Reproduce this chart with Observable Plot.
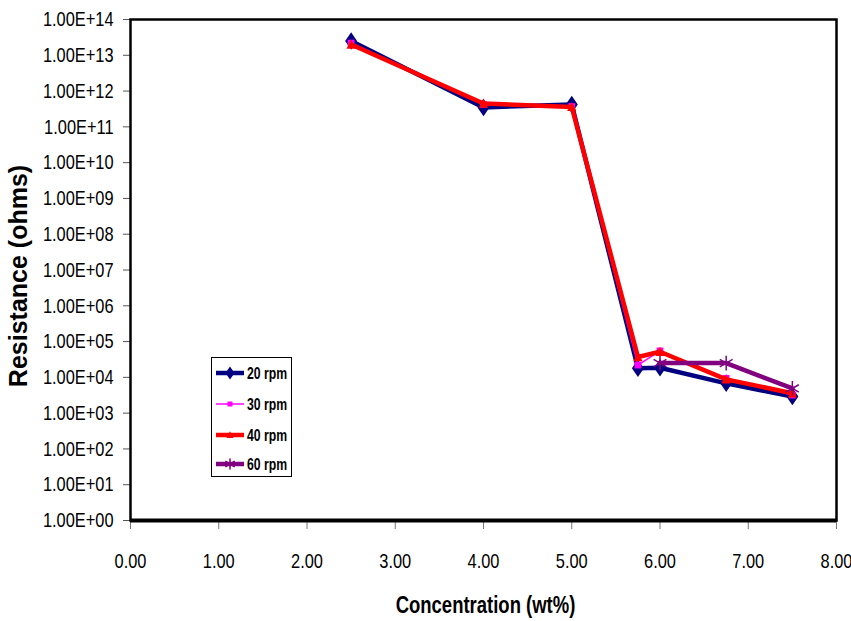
<!DOCTYPE html>
<html><head><meta charset="utf-8">
<script src="https://cdn.jsdelivr.net/npm/d3@7"></script>
<script src="https://cdn.jsdelivr.net/npm/@observablehq/plot@0.6"></script>
<style>
html,body{margin:0;padding:0;background:#fff;}
#wrap{position:relative;width:851px;height:621px;}
#legend{position:absolute;left:211px;top:357px;}
</style></head><body><div id="wrap"></div>
<script>
// ---- data ----
const xValues = [2.5, 4.0, 5.0, 5.75, 6.0, 6.75, 7.5];
const seriesNames = ["20 rpm", "30 rpm", "40 rpm", "60 rpm"];
const rpm20 = [2.5e13, 3.5e11, 4.2e11, 1.8e4, 1.85e4, 6.8e3, 2.9e3];
const rpm30 = [2.2e13, 4.2e11, 3.7e11, 2.2e4, 5.5e4, 9.4e3, 3.2e3];
const rpm40 = [2.0e13, 4.5e11, 3.6e11, 3.7e4, 5.2e4, 8.8e3, 3.6e3];
const rpm60 = [null, null, null, null, 2.5e4, 2.5e4, 4.9e3];
const seriesValues = [rpm20, rpm30, rpm40, rpm60];
const seriesColors = ["#000080", "#FF00FF", "#FF0000", "#800080"];
const xTicks = [0, 1, 2, 3, 4, 5, 6, 7, 8];
const yTicks = [1e0, 1e1, 1e2, 1e3, 1e4, 1e5, 1e6, 1e7, 1e8, 1e9, 1e10, 1e11, 1e12, 1e13, 1e14];
const xTitle = "Concentration (wt%)";
const yTitle = "Resistance (ohms)";

const rows = [];
seriesNames.forEach((s, i) => xValues.forEach((x, j) => {
  const v = seriesValues[i][j];
  if (v != null) rows.push({series: s, x, y: v});
}));

const font = "'Liberation Sans',Arial,sans-serif";

const tallDiamond = {draw(ctx, size) {const r = Math.sqrt(size) / 2; ctx.moveTo(0, -r * 1.45); ctx.lineTo(r, 0); ctx.lineTo(0, r * 1.45); ctx.lineTo(-r, 0); ctx.closePath();}};
const triUp = {draw(ctx, size) {const h = Math.sqrt(size) / 2; ctx.moveTo(0, -h * 1.1); ctx.lineTo(h, h * 0.9); ctx.lineTo(-h, h * 0.9); ctx.closePath();}};
const symbols = [tallDiamond, "square", triUp, "asterisk"];
const symR = [6.8, 3.8, 5.2, 7];
const lineW = [4.5, 1.5, 4.5, 4.5];

const fmtY = d => { const e = Math.round(Math.log10(d)); return "1.00E+" + String(e).padStart(2, "0"); };

const marks = [
  Plot.axisY({ticks: yTicks, tickFormat: fmtY, tickSize: 7, tickPadding: 10, fontSize: 21, fontFamily: font, stroke: "#555", fill: "black", label: null}),
  Plot.axisX({ticks: xTicks, tickFormat: d => d.toFixed(2), tickSize: 9, tickPadding: 24, fontSize: 21, fontFamily: font, stroke: "#777", fill: "black", label: null}),
  Plot.frame({stroke: "black", strokeWidth: 2.5}),
  Plot.ruleY([1], {stroke: "black", strokeWidth: 4})
];
seriesNames.forEach((s, i) => {
  const d = rows.filter(r => r.series === s);
  marks.push(Plot.line(d, {x: "x", y: "y", stroke: seriesColors[i], strokeWidth: lineW[i]}));
  if (i === 3) marks.push(Plot.dot(d, {x: "x", y: "y", symbol: () => symbols[i], r: symR[i], stroke: seriesColors[i], strokeWidth: 1.5}));
  else marks.push(Plot.dot(d, {x: "x", y: "y", symbol: () => symbols[i], r: symR[i], fill: seriesColors[i], stroke: "none"}));
});
marks.push(Plot.text([xTitle], {text: d => d, frameAnchor: "bottom", textAnchor: "middle", lineAnchor: "middle", dx: 2, dy: 85, fontSize: 24, fontWeight: "bold", fontFamily: font, fill: "black"}));
marks.push(Plot.text([yTitle], {text: d => d, frameAnchor: "left", textAnchor: "middle", lineAnchor: "middle", rotate: -90, dx: -112, dy: 6, fontSize: 25, fontWeight: "bold", fontFamily: font, fill: "black"}));

const chart = Plot.plot({
  width: 851, height: 621,
  marginLeft: 130, marginRight: 15, marginTop: 19, marginBottom: 101,
  style: {background: "white", overflow: "visible"},
  x: {domain: [0, 8]},
  y: {type: "log", domain: [1, 1e14]},
  symbol: {type: "identity"},
  marks
});
const wrap = document.getElementById("wrap");
wrap.appendChild(chart);

// horizontally condense text (the reference's text is narrow)
function condense(el, f) {
  const len = el.getComputedTextLength();
  el.setAttribute("textLength", (len * f).toFixed(1));
  el.setAttribute("lengthAdjust", "spacingAndGlyphs");
}
chart.querySelectorAll("text").forEach(t => {
  const s = t.textContent;
  if (s === yTitle) return;
  if (s === xTitle) condense(t, 0.77);
  else condense(t, 0.78);
});

// ---- legend ----
const leg = d3.select(wrap).append("div").attr("id", "legend")
  .append("svg").attr("width", 130).attr("height", 121).style("overflow", "visible");
leg.append("rect").attr("x", 0.5).attr("y", 0.5).attr("width", 80).attr("height", 119)
  .attr("fill", "white").attr("stroke", "black").attr("stroke-width", 1);
const rowY = [16, 47, 78, 107];
seriesNames.forEach((s, i) => {
  const g = leg.append("g").attr("transform", `translate(0,${rowY[i]})`);
  g.append("line").attr("x1", 5).attr("x2", 33).attr("y1", 0).attr("y2", 0)
    .attr("stroke", seriesColors[i]).attr("stroke-width", lineW[i]);
  const size = symR[i] * symR[i] * Math.PI;
  const typ = typeof symbols[i] === "string" ? (symbols[i] === "square" ? d3.symbolSquare : d3.symbolAsterisk) : symbols[i];
  const p = g.append("path").attr("transform", "translate(19,0)").attr("d", d3.symbol(typ, size * 0.55)());
  if (i === 3) p.attr("fill", "none").attr("stroke", seriesColors[i]).attr("stroke-width", 1.5);
  else p.attr("fill", seriesColors[i]);
  const t = g.append("text").attr("x", 36).attr("y", 0).attr("dy", "0.36em")
    .attr("font-family", font).attr("font-weight", "bold").attr("font-size", 17)
    .attr("fill", "black").text(s);
  condense(t.node(), 0.72);
});
</script></body></html>
